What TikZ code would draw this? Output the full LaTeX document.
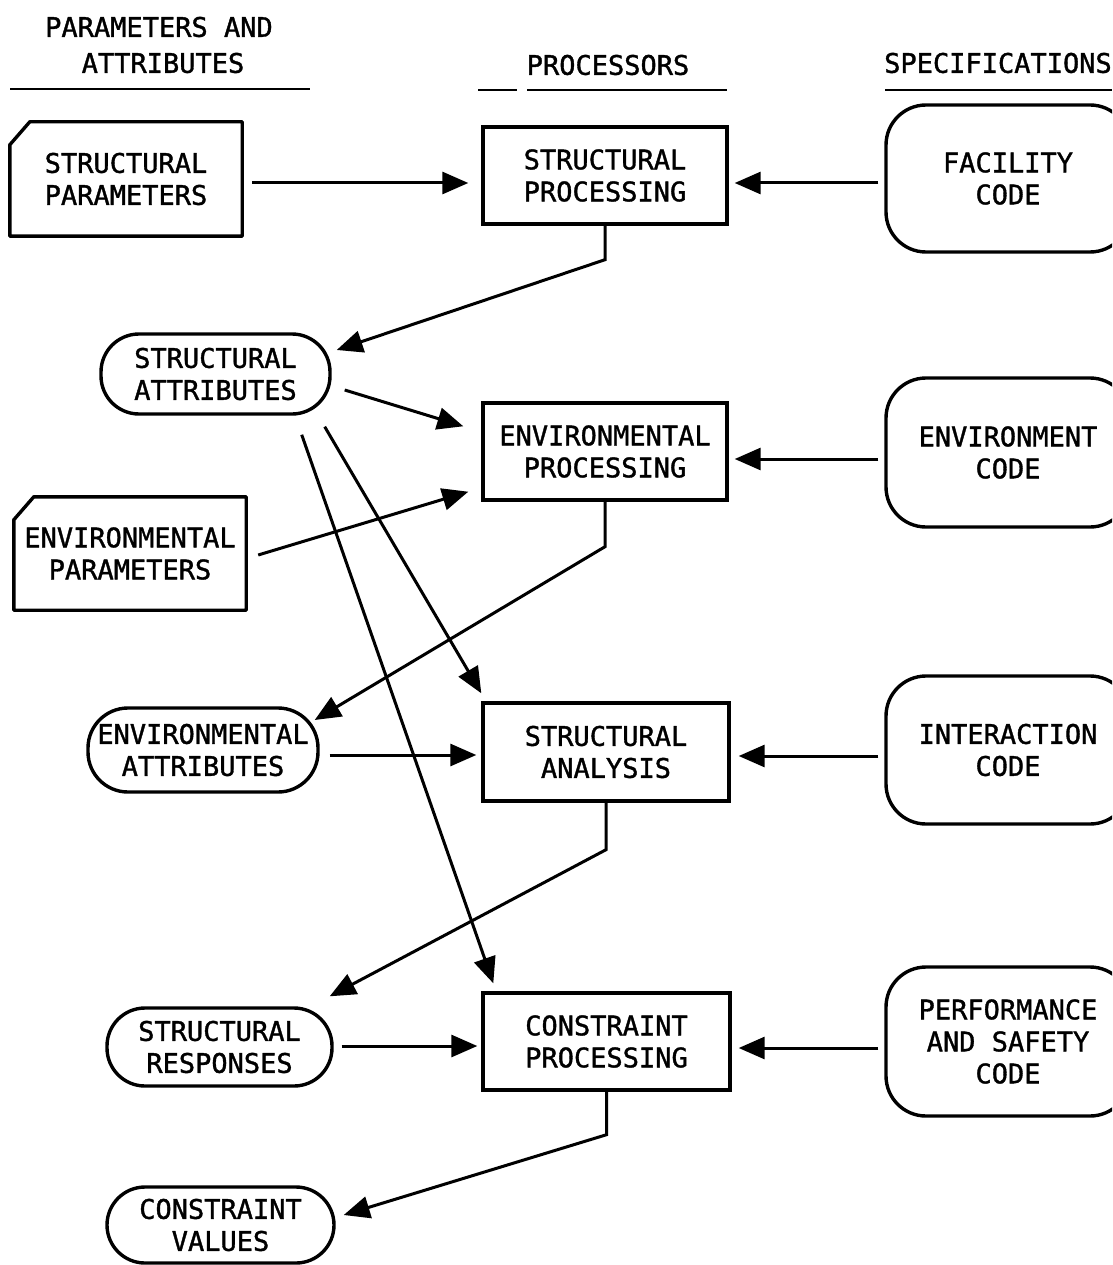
\documentclass[tikz,border=0pt]{standalone}
\usepackage{fontspec}
\newfontfamily\leroy[FakeBold=1.3]{DejaVu Sans Mono}
\usetikzlibrary{arrows.meta,calc}
\begin{document}
\begin{tikzpicture}[x=1pt,y=-1pt,
  txt/.style={font=\leroy\fontsize{27}{32}\selectfont, align=center, inner sep=0pt},
  proc/.style={txt, draw, line width=3.4pt, minimum width=244pt, minimum height=97pt},
  spec/.style={txt, draw, line width=3.4pt, rounded corners=40pt, minimum width=244pt, minimum height=148pt},
  attr/.style={txt, draw, line width=3.4pt, rounded corners=38pt, minimum height=80pt},
  card/.style={txt, minimum width=232pt, minimum height=114pt},
  cardline/.style={line width=3.4pt, line join=round},
  conn/.style={line width=3pt, -{Triangle[length=26pt,width=22pt]}},
  rule/.style={line width=2.8pt}]
\useasboundingbox (0,0) rectangle (1112,1265);
\clip (0,0) rectangle (1112,1265);

% headings
\node[txt] (h1a) at (159,27) {PARAMETERS AND};
\node[txt] (h1b) at (163,63) {ATTRIBUTES};
\node[txt] (h2) at (608,65) {PROCESSORS};
\node[txt] (h3) at (998,63) {SPECIFICATIONS};
\draw[rule] (10,89) -- (310,89);
\draw[rule] (478,90) -- (517,90);
\draw[rule] (527,90) -- (727,90);
\draw[rule] (885,90) -- (1112,90);

% parameter cards
\node[card] (sp) at (126,179) {STRUCTURAL\\PARAMETERS};
\draw[cardline] (sp.south west) -- ($(sp.north west)+(0,23)$) -- ($(sp.north west)+(20,0)$) -- (sp.north east) -- (sp.south east) -- cycle;
\node[card, minimum height=113pt] (epar) at (130,553.5) {ENVIRONMENTAL\\PARAMETERS};
\draw[cardline] (epar.south west) -- ($(epar.north west)+(0,23)$) -- ($(epar.north west)+(20,0)$) -- (epar.north east) -- (epar.south east) -- cycle;

% processors
\node[proc] (spr) at (605,175.5) {STRUCTURAL\\PROCESSING};
\node[proc] (ep) at (605,451.5) {ENVIRONMENTAL\\PROCESSING};
\node[proc, minimum width=246pt, minimum height=98pt] (san) at (606,752) {STRUCTURAL\\ANALYSIS};
\node[proc, minimum width=247pt] (cp) at (606.5,1041.5) {CONSTRAINT\\PROCESSING};

% specifications
\node[spec, minimum height=147pt] (fac) at (1008,178.5) {FACILITY\\CODE};
\node[spec, minimum height=149pt] (ec) at (1008,452.5) {ENVIRONMENT\\CODE};
\node[spec] (ic) at (1008,750) {INTERACTION\\CODE};
\node[spec, minimum height=149pt] (ps) at (1008,1041.5) {PERFORMANCE\\AND SAFETY\\CODE};

% attributes
\node[attr, minimum width=229pt] (sa) at (215.5,374) {STRUCTURAL\\ATTRIBUTES};
\node[attr, minimum width=230pt, minimum height=84pt, rounded corners=40pt] (ea) at (203,750) {ENVIRONMENTAL\\ATTRIBUTES};
\node[attr, minimum width=225pt, minimum height=78pt] (sr) at (219.5,1047) {STRUCTURAL\\RESPONSES};
\node[attr, minimum width=227pt, minimum height=76pt] (cv) at (220.5,1225) {CONSTRAINT\\VALUES};

% horizontal connectors
\draw[conn, shorten <=10pt, shorten >=13pt] ([yshift=-4pt]sp.east) -- ([yshift=-4pt]sp.east -| spr.west);
\draw[conn, shorten <=6pt, shorten >=6pt] ([yshift=-4.5pt]fac.west) -- ([yshift=-4.5pt]fac.west -| spr.east);
\draw[conn, shorten <=6pt, shorten >=6pt] ([yshift=-6.5pt]ec.west) -- ([yshift=-6.5pt]ec.west -| ep.east);
\draw[conn, shorten <=10pt, shorten >=5pt] ([yshift=-5pt]ea.east) -- ([yshift=-5pt]ea.east -| san.west);
\draw[conn, shorten <=6pt, shorten >=8pt] ([yshift=-6pt]ic.west) -- ([yshift=-6pt]ic.west -| san.east);
\draw[conn, shorten <=8pt, shorten >=4pt] ([yshift=1pt]sr.east) -- ([yshift=1pt]sr.east -| cp.west);
\draw[conn, shorten <=6pt, shorten >=7pt] ([yshift=-6.5pt]ps.west) -- ([yshift=-6.5pt]ps.west -| cp.east);

% outputs of processors
\draw[conn] (spr.south) -- ++(0,34) -- ($(sa.east)+(5,-24)$);
\draw[conn] (ep.south) -- ++(0,45) -- ($(ea.east)+(-5,-30)$);
\draw[conn] (san.south) -- ++(0,47) -- ($(sr.north east)+(-4,-10)$);
\draw[conn] (cp.south) -- ++(0,43) -- ($(cv.east)+(8,-10)$);

% diagonal inputs
\draw[conn] ($(sa.east)+(13,16)$) -- ($(ep.north west)+(-18,25)$);
\draw[conn] ($(epar.east)+(12,1.5)$) -- ($(ep.south west)+(-13,-10)$);
\draw[conn] ($(sa.south east)+(-7,11)$) -- ($(san.north west)+(0,-8)$);
\draw[conn] ($(sa.south east)+(-30,19)$) -- ($(cp.north west)+(12,-8)$);
\end{tikzpicture}
\end{document}
